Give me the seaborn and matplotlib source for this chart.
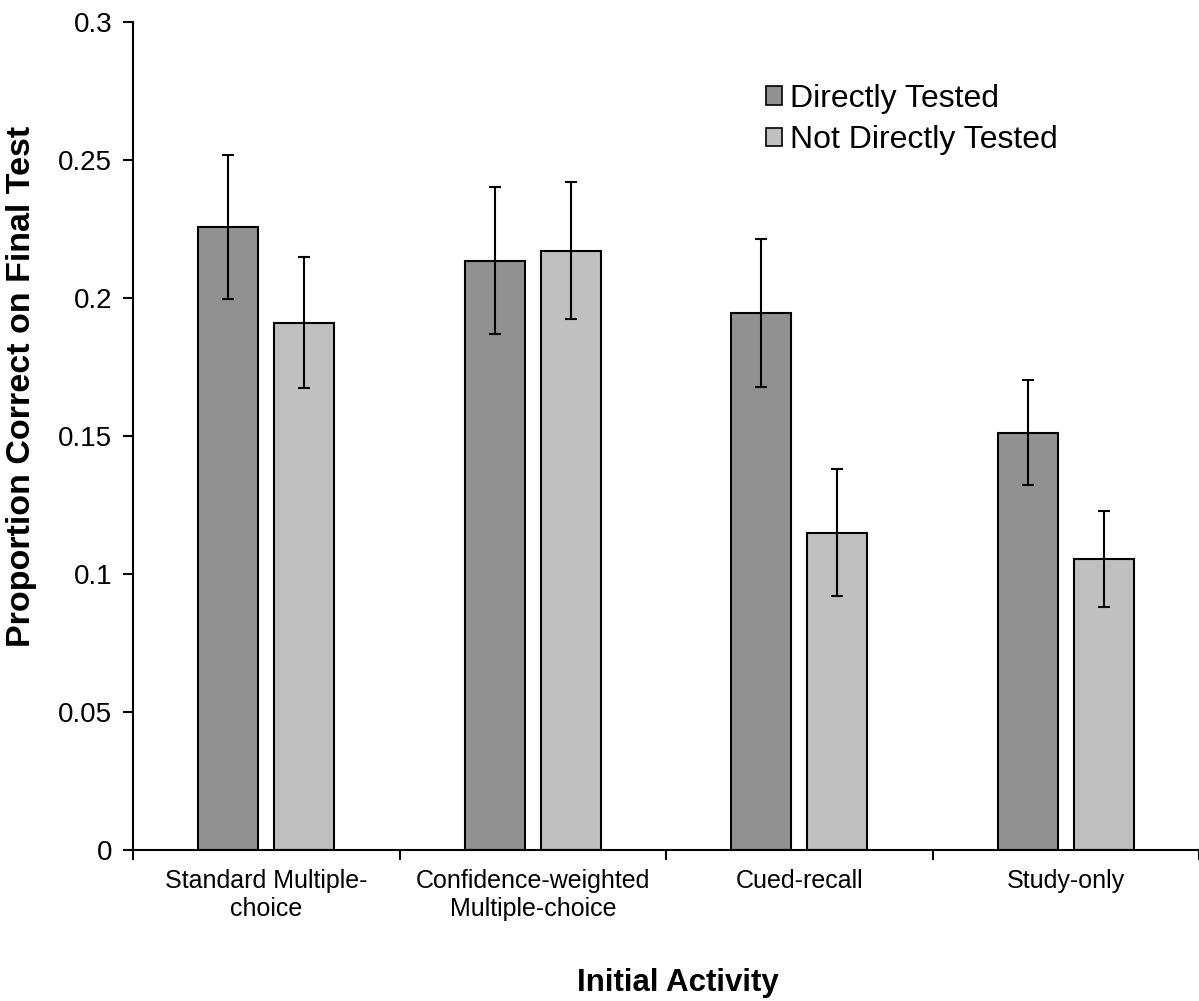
import numpy as np
import pandas as pd
import matplotlib
matplotlib.use("Agg")
import matplotlib.pyplot as plt
import seaborn as sns

# Données
activities = ["Standard Multiple-\nchoice", "Confidence-weighted\nMultiple-choice",
              "Cued-recall", "Study-only"]
conditions = ["Directly Tested", "Not Directly Tested"]
direct = [0.2258, 0.2135, 0.1946, 0.1512]
not_direct = [0.1911, 0.2171, 0.1149, 0.1054]
direct_err = [0.026, 0.0266, 0.0268, 0.0191]
not_direct_err = [0.0237, 0.0248, 0.0230, 0.0175]

colors = ["#919191", "#c0c0c0"]

df = pd.DataFrame({
    "Activity": activities * 2,
    "Condition": [conditions[0]] * 4 + [conditions[1]] * 4,
    "Value": direct + not_direct,
})

sns.set_style("white")
plt.rcParams["font.family"] = ["Liberation Sans", "DejaVu Sans"]
plt.rcParams["text.color"] = "black"
plt.rcParams["axes.labelcolor"] = "black"
plt.rcParams["xtick.color"] = "black"
plt.rcParams["ytick.color"] = "black"

fig = plt.figure(figsize=(11.99, 10.01), dpi=100)
ax = fig.add_axes([0.111, 0.151, 0.889, 0.827])

sns.barplot(data=df, x="Activity", y="Value", hue="Condition", order=activities,
            hue_order=conditions, palette=colors, width=0.57, gap=0.21,
            edgecolor="black", linewidth=1.5, errorbar=None, ax=ax)

# Barres d'erreur
errs = direct_err + not_direct_err
vals = direct + not_direct
bars = [p for p in ax.patches if p.get_height() > 0][:8]
xs = [b.get_x() + b.get_width() / 2 for b in bars]
ax.errorbar(xs, vals, yerr=errs, fmt="none", ecolor="black", elinewidth=1.5,
            capsize=4, capthick=1.5)

ax.set_xlim(-0.5, 3.5)
ax.set_ylim(0, 0.3)
ax.set_yticks([0, 0.05, 0.1, 0.15, 0.2, 0.25, 0.3])
ax.set_yticklabels(["0", "0.05", "0.1", "0.15", "0.2", "0.25", "0.3"], fontsize=20)
ax.set_xticks(range(4))
ax.set_xticklabels(activities, fontsize=18, multialignment="center")
ax.set_xticks([-0.5, 0.5, 1.5, 2.5, 3.5], minor=True)
ax.tick_params(axis="x", which="major", bottom=True, length=0, pad=14)
ax.tick_params(axis="x", which="minor", bottom=True, length=7, width=1.5, direction="out")
ax.tick_params(axis="y", left=True, length=7, width=1.5, direction="out", pad=8)

for s in ["top", "right"]:
    ax.spines[s].set_visible(False)
for s in ["left", "bottom"]:
    ax.spines[s].set_color("black")
    ax.spines[s].set_linewidth(1.5)

ax.set_xlabel("Initial Activity", fontsize=22.5, fontweight="bold")
ax.xaxis.set_label_coords(0.511, -0.143)
ax.set_ylabel("Proportion Correct on Final Test", fontsize=24.5, fontweight="bold")
ax.yaxis.set_label_coords(-0.090, 0.56)

leg = ax.legend(loc="upper left", bbox_to_anchor=(0.567, 0.96), frameon=False,
                fontsize=23, handlelength=0.5, handleheight=0.5, handletextpad=0.25,
                labelspacing=0.36)
for h in leg.legend_handles:
    h.set_edgecolor("black")
    h.set_linewidth(1.2)

fig.savefig("out.png", dpi=100)
